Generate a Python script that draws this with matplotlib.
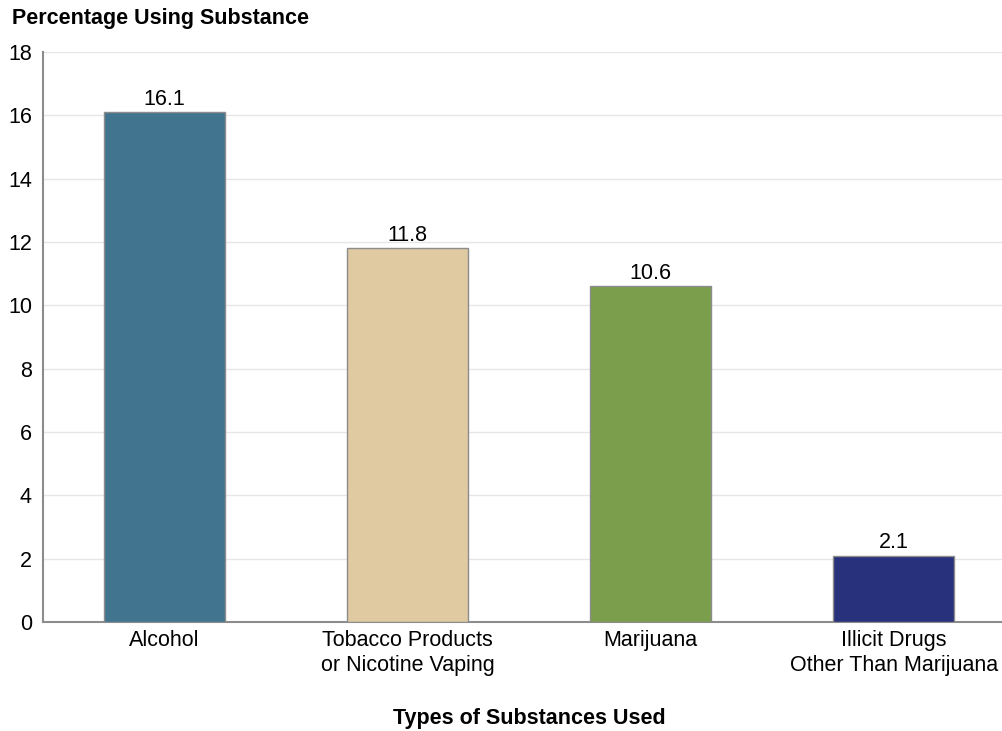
import matplotlib.pyplot as plt

plt.rcParams['font.family'] = ['Liberation Sans', 'DejaVu Sans']

categories = ['Alcohol', 'Tobacco Products\nor Nicotine Vaping', 'Marijuana',
              'Illicit Drugs\nOther Than Marijuana']
percentages = [16.1, 11.8, 10.6, 2.1]
bar_colors = ['#41758f', '#dfcaa1', '#7a9e4c', '#28327c']
yticks = [0, 2, 4, 6, 8, 10, 12, 14, 16, 18]

fig = plt.figure(figsize=(10.03, 7.31), dpi=100)
ax = fig.add_axes([0.0429, 0.149, 0.9571, 0.78])

x = range(len(categories))
bars = ax.bar(x, percentages, width=0.5, color=bar_colors,
              edgecolor='#8c8c8c', linewidth=1, zorder=3)
for b, v in zip(bars, percentages):
    ax.text(b.get_x() + b.get_width() / 2, v + 0.08, f'{v:.1f}',
            ha='center', va='bottom', fontsize=15.5)

ax.set_xlim(-0.5, 3.45)
ax.set_ylim(0, 18)
ax.set_yticks(yticks)
ax.set_xticks(list(x))
ax.set_xticklabels(categories, fontsize=15.5, linespacing=1.2)
ax.tick_params(axis='y', labelsize=15.5, length=0, pad=8)
ax.tick_params(axis='x', length=0, pad=6)
ax.grid(axis='y', color='#e6e6e6', linewidth=1, zorder=0)

for side in ['top', 'right']:
    ax.spines[side].set_visible(False)
for side in ['left', 'bottom']:
    ax.spines[side].set_color('#8c8c8c')
    ax.spines[side].set_linewidth(1.5)

fig.text(0.012, 0.975, 'Percentage Using Substance', fontsize=15.5,
         fontweight='bold', ha='left', va='center')
fig.text(0.528, 0.017, 'Types of Substances Used', fontsize=15.5,
         fontweight='bold', ha='center', va='center')

fig.savefig('out.png', dpi=100)
